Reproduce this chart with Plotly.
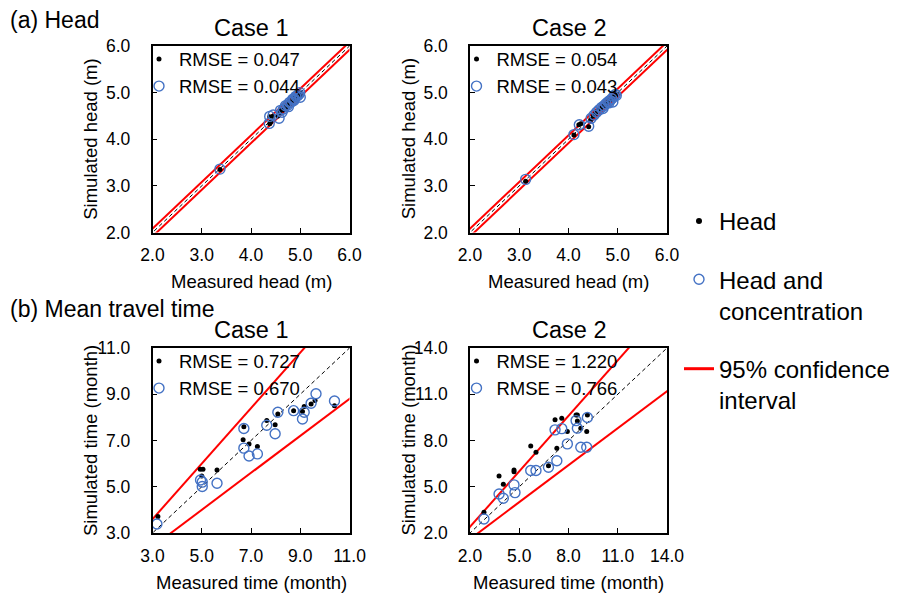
import plotly.graph_objects as go

# page is 898x595; the plot div sits at an 8px body margin, so the figure is 890x587
PAGE_OFF = 8
W, H = 898 - PAGE_OFF, 595 - PAGE_OFF

# ---------------- data ----------------
# (a) Head, Case 1
h1_head_meas = [3.37, 4.38, 4.40, 4.38, 4.45, 4.55, 4.58, 4.60, 4.65, 4.68, 4.72, 4.75, 4.78, 4.82, 4.85, 4.88, 4.90, 4.93, 4.96, 4.99, 5.00]
h1_head_sim  = [3.35, 4.33, 4.37, 4.48, 4.50, 4.50, 4.56, 4.62, 4.63, 4.70, 4.68, 4.74, 4.80, 4.78, 4.86, 4.84, 4.90, 4.91, 4.95, 4.99, 4.95]
h1_hc_meas = [3.37, 4.37, 4.38, 4.57, 4.45, 4.60, 4.66, 4.70, 4.74, 4.78, 4.82, 4.85, 4.88, 4.91, 4.94, 4.97, 4.99, 5.00, 4.63, 4.76, 4.87]
h1_hc_sim  = [3.36, 4.34, 4.49, 4.45, 4.52, 4.62, 4.65, 4.72, 4.73, 4.79, 4.80, 4.86, 4.87, 4.92, 4.93, 4.96, 5.00, 4.90, 4.58, 4.70, 4.83]
# (a) Head, Case 2
h2_head_meas = [3.13, 4.11, 4.21, 4.25, 4.41, 4.45, 4.50, 4.55, 4.60, 4.65, 4.70, 4.74, 4.78, 4.82, 4.86, 4.90, 4.93, 4.96, 4.98]
h2_head_sim  = [3.10, 4.09, 4.31, 4.33, 4.27, 4.42, 4.50, 4.55, 4.62, 4.66, 4.70, 4.73, 4.78, 4.82, 4.85, 4.88, 4.93, 4.95, 4.97]
h2_hc_meas = [3.13, 4.11, 4.22, 4.41, 4.46, 4.52, 4.57, 4.62, 4.67, 4.72, 4.76, 4.80, 4.84, 4.88, 4.92, 4.95, 4.97, 4.90, 4.70, 4.82]
h2_hc_sim  = [3.14, 4.10, 4.31, 4.28, 4.45, 4.52, 4.58, 4.63, 4.68, 4.72, 4.76, 4.80, 4.83, 4.87, 4.92, 4.96, 4.94, 4.80, 4.66, 4.78]
# (b) Mean travel time, Case 1
t1_head_meas = [3.22, 4.94, 5.05, 5.00, 5.62, 6.71, 6.68, 6.92, 7.26, 7.64, 7.98, 8.09, 8.73, 9.09, 9.16, 9.44, 9.60, 10.39]
t1_head_sim  = [3.71, 5.76, 5.76, 5.47, 5.72, 7.60, 7.03, 6.85, 6.74, 7.86, 7.68, 8.15, 8.29, 8.25, 8.47, 8.58, 8.73, 8.50]
t1_hc_meas = [3.18, 4.95, 5.02, 5.02, 5.62, 6.71, 6.71, 6.92, 7.26, 7.64, 7.98, 8.09, 8.73, 9.09, 9.16, 9.44, 9.64, 10.39]
t1_hc_sim  = [3.39, 5.29, 5.20, 5.01, 5.15, 7.52, 6.67, 6.33, 6.42, 7.66, 7.29, 8.22, 8.29, 7.93, 8.22, 8.61, 9.02, 8.71]
# (b) Mean travel time, Case 2
t2_head_meas = [2.85, 3.77, 4.03, 4.68, 4.68, 5.70, 6.02, 6.78, 7.29, 7.18, 7.59, 7.93, 8.46, 8.54, 8.54, 8.75, 9.11, 9.15]
t2_head_sim  = [3.34, 5.70, 5.16, 5.98, 6.09, 7.65, 7.24, 6.37, 7.50, 9.34, 9.45, 8.58, 9.66, 9.66, 9.27, 8.80, 8.58, 9.66]
t2_hc_meas = [2.85, 3.77, 4.03, 4.68, 4.74, 5.70, 6.02, 6.78, 7.29, 7.18, 7.59, 7.93, 8.46, 8.54, 8.75, 9.11, 9.15]
t2_hc_sim  = [2.91, 4.53, 4.25, 5.12, 4.62, 6.05, 6.05, 6.26, 6.69, 8.69, 8.77, 7.78, 9.29, 8.80, 7.56, 7.56, 9.49]

rmse_labels = {
    1: ("RMSE = 0.047", "RMSE = 0.044"),
    2: ("RMSE = 0.054", "RMSE = 0.043"),
    3: ("RMSE = 0.727", "RMSE = 0.670"),
    4: ("RMSE = 1.220", "RMSE = 0.766"),
}

head_range = [2.0, 6.0]
head_band = 0.085          # +/- offset of 95% CI lines, head panels
time1_range = [3.0, 11.0]
time2_range = [2.0, 14.0]
time_band_ratio = [1.2, 0.8]   # 95% CI lines, travel time panels

x_tick_head = [2, 3, 4, 5, 6]
x_tick_t1 = [3, 5, 7, 9, 11]
x_tick_t2 = [2, 5, 8, 11, 14]

panel_titles = ["Case 1", "Case 2", "Case 1", "Case 2"]
row_titles = ["(a) Head", "(b) Mean travel time"]
xtitles = ["Measured head (m)", "Measured head (m)", "Measured time (month)", "Measured time (month)"]
ytitles = ["Simulated head (m)", "Simulated head (m)", "Simulated time (month)", "Simulated time (month)"]
legend_names = ["Head", "Head and<br>concentration", "95% confidence<br>interval"]

BLUE = "#4472C4"
FONT = "Liberation Sans, Arial, sans-serif"

# ---------------- layout geometry (page pixels -> paper fractions) ----------------
px_x = lambda v: (v - PAGE_OFF) / W
px_y = lambda v: 1 - (v - PAGE_OFF) / H

panels = {
    1: dict(x=(152.5, 349.5), y=(46, 232.5)),
    2: dict(x=(470, 667), y=(46, 232.5)),
    3: dict(x=(152.5, 349.5), y=(348, 533)),
    4: dict(x=(470, 667), y=(348, 533)),
}

fig = go.Figure()

panel_data = {
    1: (h1_head_meas, h1_head_sim, h1_hc_meas, h1_hc_sim, head_range, x_tick_head),
    2: (h2_head_meas, h2_head_sim, h2_hc_meas, h2_hc_sim, head_range, x_tick_head),
    3: (t1_head_meas, t1_head_sim, t1_hc_meas, t1_hc_sim, time1_range, x_tick_t1),
    4: (t2_head_meas, t2_head_sim, t2_hc_meas, t2_hc_sim, time2_range, x_tick_t2),
}

for i, (hm, hs, cm, cs, rng, ticks) in panel_data.items():
    xa = "x" if i == 1 else f"x{i}"
    ya = "y" if i == 1 else f"y{i}"
    leg = f"legend{i + 1}"
    lx = [rng[0] - 1, rng[1] + 1]
    if i <= 2:
        up = [v + head_band for v in lx]
        lo = [v - head_band for v in lx]
    else:
        up = [v * time_band_ratio[0] for v in lx]
        lo = [v * time_band_ratio[1] for v in lx]
    for yy in (up, lo):
        fig.add_trace(go.Scatter(x=lx, y=yy, mode="lines", xaxis=xa, yaxis=ya,
                                 line=dict(color="#FF0000", width=2), showlegend=False,
                                 hoverinfo="skip"))
    fig.add_trace(go.Scatter(x=lx, y=lx, mode="lines", xaxis=xa, yaxis=ya,
                             line=dict(color="black", width=1, dash="4px,3px"),
                             showlegend=False, hoverinfo="skip"))
    fig.add_trace(go.Scatter(x=hm, y=hs, mode="markers", xaxis=xa, yaxis=ya,
                             name=rmse_labels[i][0], legend=leg, legendgroup=f"a{i}",
                             marker=dict(color="black", size=5)))
    fig.add_trace(go.Scatter(x=cm, y=cs, mode="markers", xaxis=xa, yaxis=ya,
                             name=rmse_labels[i][1], legend=leg, legendgroup=f"b{i}",
                             marker=dict(symbol="circle-open", color=BLUE, size=10,
                                         line=dict(width=1.4, color=BLUE))))

    dx = panels[i]["x"]
    dy = panels[i]["y"]
    axis_common = dict(showgrid=False, zeroline=False, showline=True, linecolor="black",
                       linewidth=1.5, mirror=True, ticks="inside", ticklen=5,
                       tickcolor="black", tickwidth=1, tickformat=".1f", automargin=False,
                       tickfont=dict(family=FONT, size=17.5, color="black"))
    fig.update_layout(**{
        ("xaxis" if i == 1 else f"xaxis{i}"): dict(
            axis_common, domain=[px_x(dx[0]), px_x(dx[1])], range=rng, tickvals=ticks,
            anchor=ya, ticklabelstandoff=6),
        ("yaxis" if i == 1 else f"yaxis{i}"): dict(
            axis_common, domain=[px_y(dy[1]), px_y(dy[0])], range=rng, tickvals=ticks,
            anchor=xa, ticklabelstandoff=17),
    })

# legend dummies for the global legend
fig.add_trace(go.Scatter(x=[None], y=[None], mode="markers", name=legend_names[0],
                         legend="legend", legendgroup="g1",
                         marker=dict(color="black", size=6)))
fig.add_trace(go.Scatter(x=[None], y=[None], mode="markers", name=legend_names[1],
                         legend="legend", legendgroup="g2",
                         marker=dict(symbol="circle-open", color=BLUE, size=10,
                                     line=dict(width=1.4, color=BLUE))))
fig.add_trace(go.Scatter(x=[None], y=[None], mode="lines", name=legend_names[2],
                         legend="legend", legendgroup="g3",
                         line=dict(color="#FF0000", width=3)))

legend_common = dict(bgcolor="rgba(0,0,0,0)", borderwidth=0, xanchor="left", yanchor="top",
                     orientation="v", tracegroupgap=0,
                     font=dict(family=FONT, size=18.5, color="black"))
layout_legends = dict(
    legend=dict(legend_common, x=px_x(671 + PAGE_OFF), y=px_y(191 + PAGE_OFF),
                tracegroupgap=24, valign="top",
                font=dict(family=FONT, size=24, color="black")),
)
for i in range(1, 5):
    layout_legends[f"legend{i + 1}"] = dict(
        legend_common, x=px_x(panels[i]["x"][0] - 21.5 + PAGE_OFF),
        y=px_y(panels[i]["y"][0] - 13.5 + PAGE_OFF))
fig.update_layout(**layout_legends)

ann = []
for k, t in enumerate(row_titles):
    ann.append(dict(text=t, x=px_x(8), y=px_y([20.5, 309][k]), xanchor="left", yanchor="middle",
                    font=dict(size=23)))
for i in range(1, 5):
    dx = panels[i]["x"]
    dy = panels[i]["y"]
    cx = (dx[0] + dx[1]) / 2
    cy = (dy[0] + dy[1]) / 2
    ann.append(dict(text=panel_titles[i - 1], x=px_x(cx), y=px_y(dy[0] - 18),
                    xanchor="center", yanchor="middle", font=dict(size=23.5)))
    ann.append(dict(text=xtitles[i - 1], x=px_x(cx), y=px_y(dy[1] + 49),
                    xanchor="center", yanchor="middle", font=dict(size=18.5)))
    ann.append(dict(text=ytitles[i - 1], x=px_x(dx[0] - 62), y=px_y(cy), textangle=-90,
                    xanchor="center", yanchor="middle", font=dict(size=18.5)))
for a in ann:
    a.update(xref="paper", yref="paper", showarrow=False)
    a["font"].update(family=FONT, color="black")

fig.update_layout(width=W, height=H, margin=dict(l=0, r=0, t=0, b=0, autoexpand=False),
                  paper_bgcolor="white", plot_bgcolor="white",
                  font=dict(family=FONT, color="black"), annotations=ann)

fig.write_html("out.html")
